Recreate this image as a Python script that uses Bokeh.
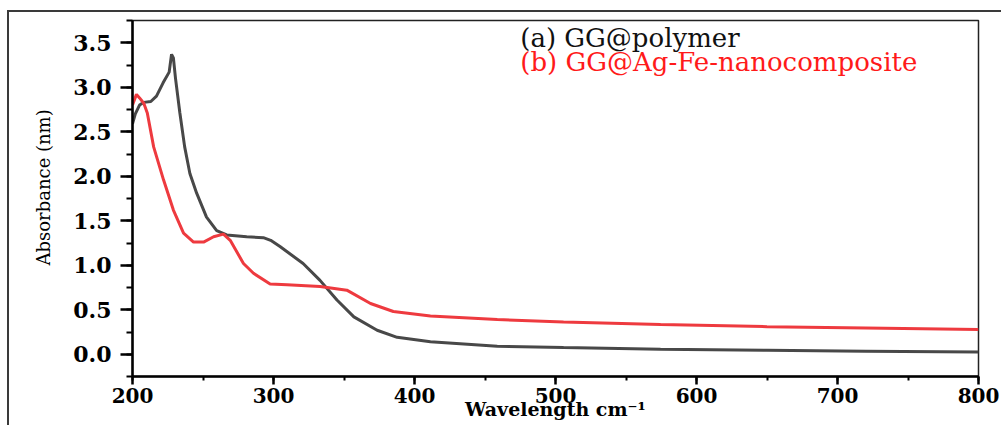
import math
from bokeh.plotting import figure
from bokeh.models import Label, Range1d, FixedTicker, CustomJSTickFormatter, Title
from bokeh.embed import file_html
from bokeh.resources import INLINE

# ---- data ----
poly_wl = [200, 202, 205, 208, 213, 217, 221.7, 226, 227.7, 229, 230.5, 233.6, 237,
           240.7, 245.5, 252.5, 259.7, 266.8, 281, 292.8, 298, 304.6, 321, 333, 345,
           357, 373.5, 387.7, 411.3, 458.7, 505.7, 574.5, 650, 720, 800]
poly_abs = [2.59, 2.70, 2.80, 2.83, 2.84, 2.90, 3.05, 3.17, 3.37, 3.33, 3.10, 2.71, 2.33,
            2.03, 1.81, 1.54, 1.39, 1.34, 1.32, 1.31, 1.28, 1.21, 1.02, 0.83, 0.61,
            0.42, 0.27, 0.19, 0.14, 0.09, 0.075, 0.055, 0.045, 0.035, 0.025]

nano_wl = [200, 202.8, 205, 208, 210.5, 215, 222, 229, 236.2, 243.3, 250.4, 257.5, 264.5,
           269.3, 278.7, 285.8, 297.6, 309.6, 333, 352, 368.8, 385, 411.3, 458.7, 505.7,
           574.5, 650, 720, 800]
nano_abs = [2.80, 2.92, 2.88, 2.82, 2.71, 2.33, 1.96, 1.62, 1.36, 1.26, 1.26, 1.32, 1.35,
            1.28, 1.02, 0.91, 0.79, 0.78, 0.76, 0.72, 0.57, 0.48, 0.43, 0.39, 0.363,
            0.334, 0.31, 0.295, 0.278]

x_ticks = [200, 300, 400, 500, 600, 700, 800]
y_ticks = [0.0, 0.5, 1.0, 1.5, 2.0, 2.5, 3.0, 3.5]
legend_a = "(a) GG@polymer"
legend_b = "(b) GG@Ag-Fe-nanocomposite"
x_title = "Wavelength cm\u207b\u00b9"
y_title = "Absorbance (nm)"

BLACK = "#484848"
RED = "#ee3a3f"

p = figure(width=1001, height=425, output_backend="svg", toolbar_location=None,
           x_range=Range1d(200, 800), y_range=Range1d(-0.25, 3.75),
           min_border_left=132, min_border_right=23, min_border_top=20, min_border_bottom=49)
p.border_fill_color = None
p.styles = {
    "background": "linear-gradient(#3a3a3a,#3a3a3a) 8px 10px / 1001px 2px no-repeat, "
                  "linear-gradient(#3a3a3a,#3a3a3a) 7px 10px / 2px 425px no-repeat, white"
}

p.xgrid.visible = False
p.ygrid.visible = False
p.outline_line_color = "#222222"
p.outline_line_width = 1.5

p.line(poly_wl, poly_abs, line_color=BLACK, line_width=3)
p.line(nano_wl, nano_abs, line_color=RED, line_width=3)

# axes
p.xaxis.ticker = FixedTicker(ticks=x_ticks, minor_ticks=list(range(200, 801, 50)))
p.yaxis.ticker = FixedTicker(ticks=y_ticks, minor_ticks=[i * 0.25 for i in range(-1, 16)])
p.yaxis.formatter = CustomJSTickFormatter(code="return tick.toFixed(1);")

for ax in (p.xaxis, p.yaxis):
    ax.axis_line_width = 2.5
    ax.axis_line_color = "black"
    ax.major_tick_line_color = "black"
    ax.major_tick_line_width = 2.5
    ax.minor_tick_line_color = "black"
    ax.minor_tick_line_width = 2
    ax.major_tick_in = 0
    ax.minor_tick_in = 0
    ax.major_label_text_font = "DejaVu Serif"
    ax.major_label_text_font_style = "bold"
    ax.major_label_text_color = "black"

p.yaxis.major_label_text_font_size = "22px"
p.yaxis.major_tick_out = 12
p.yaxis.minor_tick_out = 6
p.yaxis.major_label_standoff = 9

# y title as a side-panel title (allows positioning along the axis)
p.add_layout(Title(text=y_title, align="left", offset=111, text_font="DejaVu Serif",
                   text_font_style="normal", text_font_size="18px", text_color="black",
                   standoff=34), "left")

p.xaxis.major_label_text_font_size = "20px"
p.xaxis.major_tick_out = 8
p.xaxis.minor_tick_out = 4
p.xaxis.major_label_standoff = 3
p.xaxis.axis_label = x_title
p.xaxis.axis_label_text_font = "DejaVu Serif"
p.xaxis.axis_label_text_font_style = "bold"
p.xaxis.axis_label_text_font_size = "19px"
p.xaxis.axis_label_text_color = "black"
p.xaxis.axis_label_standoff = -8

# legend text
p.add_layout(Label(x=475, y=3.55, text=legend_a, text_font="DejaVu Serif",
                   text_font_size="26px", text_color="#111111", text_baseline="middle"))
p.add_layout(Label(x=475, y=3.28, text=legend_b, text_font="DejaVu Serif",
                   text_font_size="26px", text_color="#ff1a1a", text_baseline="middle"))

open("out.html", "w").write(file_html(p, INLINE))
